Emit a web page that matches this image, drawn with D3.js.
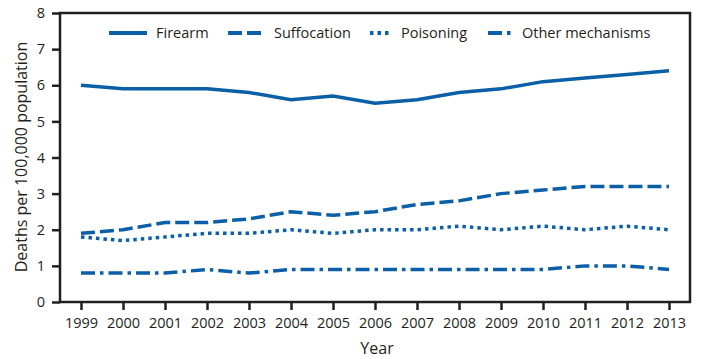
<!DOCTYPE html>
<html><head><meta charset="utf-8">
<script src="https://cdn.jsdelivr.net/npm/d3@7"></script>
<style>
body{margin:0;background:#fff;}
text{font-family:"Open Sans",sans-serif;fill:#231f20;}
</style></head>
<body><svg id="c" width="703" height="359"></svg>
<script>
const years = [1999,2000,2001,2002,2003,2004,2005,2006,2007,2008,2009,2010,2011,2012,2013];
const firearm     = [6.0,5.9,5.9,5.9,5.8,5.6,5.7,5.5,5.6,5.8,5.9,6.1,6.2,6.3,6.4];
const suffocation = [1.9,2.0,2.2,2.2,2.3,2.5,2.4,2.5,2.7,2.8,3.0,3.1,3.2,3.2,3.2];
const poisoning   = [1.8,1.7,1.8,1.9,1.9,2.0,1.9,2.0,2.0,2.1,2.0,2.1,2.0,2.1,2.0];
const other       = [0.8,0.8,0.8,0.9,0.8,0.9,0.9,0.9,0.9,0.9,0.9,0.9,1.0,1.0,0.9];
const seriesNames = ["Firearm","Suffocation","Poisoning","Other mechanisms"];
const yTicks = [0,1,2,3,4,5,6,7,8];

const color = "#0a5fa6";
const dashes = ["none","14,5","3.5,4","14,5,3.5,5"];
const allSeries = [firearm, suffocation, poisoning, other];

const svg = d3.select("#c");
const L=60, R=690, T=13, B=302;
const x = d3.scaleLinear().domain([1998.5,2013.5]).range([L,R]);
const y = d3.scaleLinear().domain([0,8]).range([B,T]);

svg.append("rect").attr("x",L).attr("y",T).attr("width",R-L).attr("height",B-T)
  .attr("fill","none").attr("stroke","#231f20").attr("stroke-width",2.5);

const yAxis = svg.append("g").attr("transform",`translate(${L},0)`)
  .call(d3.axisLeft(y).tickValues(yTicks).tickSize(8).tickPadding(7).tickFormat(d3.format("d")));
const xAxis = svg.append("g").attr("transform",`translate(0,${B})`)
  .call(d3.axisBottom(x).tickValues(years).tickSize(8).tickPadding(8).tickFormat(d3.format("d")));
[yAxis,xAxis].forEach(g=>{
  g.select(".domain").remove();
  g.selectAll(".tick line").attr("stroke","#231f20").attr("stroke-width",2.5);
  g.selectAll(".tick text").attr("font-size",14.5).attr("font-family","Open Sans").attr("fill","#231f20");
});

const line = d3.line().x((d,i)=>x(years[i])).y(d=>y(d));
allSeries.forEach((s,k)=>{
  svg.append("path").datum(s).attr("d",line).attr("fill","none")
    .attr("stroke",color).attr("stroke-width",3.5)
    .attr("stroke-dasharray",dashes[k]==="none"?null:dashes[k]);
});

const legX = [109,228,370,488];
const legLen = [38,37,22,25];
seriesNames.forEach((n,k)=>{
  svg.append("line").attr("x1",legX[k]).attr("x2",legX[k]+legLen[k]).attr("y1",33).attr("y2",33)
    .attr("stroke",color).attr("stroke-width",3.8)
    .attr("stroke-dasharray",dashes[k]==="none"?null:dashes[k]);
  svg.append("text").attr("x",legX[k]+legLen[k]+9).attr("y",38).attr("font-size",14.5).text(n);
});

svg.append("text").attr("transform","translate(27,157) rotate(-90)").attr("text-anchor","middle")
  .attr("font-size",16).text("Deaths per 100,000 population");
svg.append("text").attr("x",377).attr("y",354).attr("text-anchor","middle").attr("font-size",16).text("Year");
</script></body></html>
